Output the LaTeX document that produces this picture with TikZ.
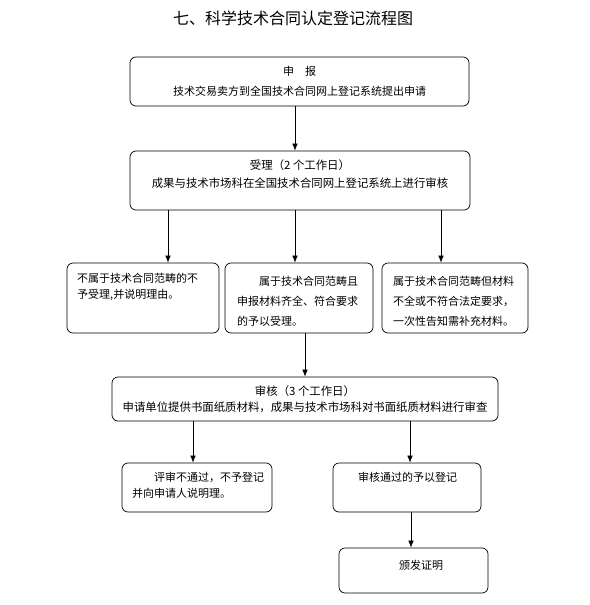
\documentclass[tikz,border=0pt]{standalone}
\usepackage{fontspec}
\setmainfont{Noto Sans CJK SC}
\usetikzlibrary{arrows.meta}

\begin{document}
\begin{tikzpicture}[x=1pt,y=-1pt,
    box/.style={draw,rounded corners=6pt,line width=0.7pt,inner sep=0pt},
    txt/.style={inner sep=0pt,align=left,anchor=north west},
    arr/.style={-{Latex[length=7pt,width=5.5pt]},line width=0.6pt}]
  \useasboundingbox (0,0) rectangle (589,605);

  \node (title) at (293,18) [font=\fontsize{16}{16}\selectfont] {七、科学技术合同认定登记流程图};

  \node (b1) at (299.5,81.5) [box,minimum width=339pt,minimum height=49pt,align=center,font=\fontsize{11}{20}\selectfont] {申　报\\技术交易卖方到全国技术合同网上登记系统提出申请};
  \node (b2) at (300,180.5) [box,minimum width=340pt,minimum height=59pt] {};
  \node (t2) at (300,174) [inner sep=0pt,align=center,font=\fontsize{11.4}{18}\selectfont] {受理（2 个工作日）\\成果与技术市场科在全国技术合同网上登记系统上进行审核};

  \node (b3a) at (143,298) [box,minimum width=152pt,minimum height=70pt] {};
  \node (b3b) at (299,298) [box,minimum width=148pt,minimum height=70pt] {};
  \node (b3c) at (455,298) [box,minimum width=146pt,minimum height=70pt] {};
  \node (t3a) at (77,273.5) [txt,font=\fontsize{11}{15.5}\selectfont] {不属于技术合同范畴的不\\予受理,并说明理由。};
  \node (t3b) at (237,276.5) [txt,font=\fontsize{11}{20}\selectfont] {　　属于技术合同范畴且\\申报材料齐全、符合要求\\的予以受理。};
  \node (t3c) at (393,276.5) [txt,font=\fontsize{11}{20}\selectfont] {属于技术合同范畴但材料\\不全或不符合法定要求，\\一次性告知需补充材料。};

  \node (b4) at (305,399) [box,minimum width=386pt,minimum height=44pt,align=center,font=\fontsize{11.4}{16}\selectfont] {审核（3 个工作日）\\申请单位提供书面纸质材料，成果与技术市场科对书面纸质材料进行审查};

  \node (b5a) at (197,487.5) [box,minimum width=150pt,minimum height=49pt] {};
  \node (b5b) at (407,487.5) [box,minimum width=148pt,minimum height=49pt] {};
  \node (t5a) at (132,471.5) [txt,font=\fontsize{11}{16}\selectfont] {　　评审不通过，不予登记\\并向申请人说明理。};
  \node (t5b) at (358,471.5) [txt,font=\fontsize{11}{16}\selectfont] {审核通过的予以登记};

  \node (b6) at (413.5,570.5) [box,minimum width=149pt,minimum height=45pt] {};
  \node (t6) at (421,565) [inner sep=0pt,font=\fontsize{11}{16}\selectfont] {颁发证明};

  \draw[arr] (295,0 |- b1.south) -- (295,0 |- b2.north);
  \draw[arr] (168,0 |- b2.south) -- (168,0 |- b3a.north);
  \draw[arr] (295,0 |- b2.south) -- (295,0 |- b3b.north);
  \draw[arr] (441,0 |- b2.south) -- (441,0 |- b3c.north);
  \draw[arr] (305,0 |- b3b.south) -- (305,0 |- b4.north);
  \draw[arr] (193,0 |- b4.south) -- (193,0 |- b5a.north);
  \draw[arr] (410,0 |- b4.south) -- (410,0 |- b5b.north);
  \draw[arr] (411,0 |- b5b.south) -- (411,0 |- b6.north);
\end{tikzpicture}
\end{document}
